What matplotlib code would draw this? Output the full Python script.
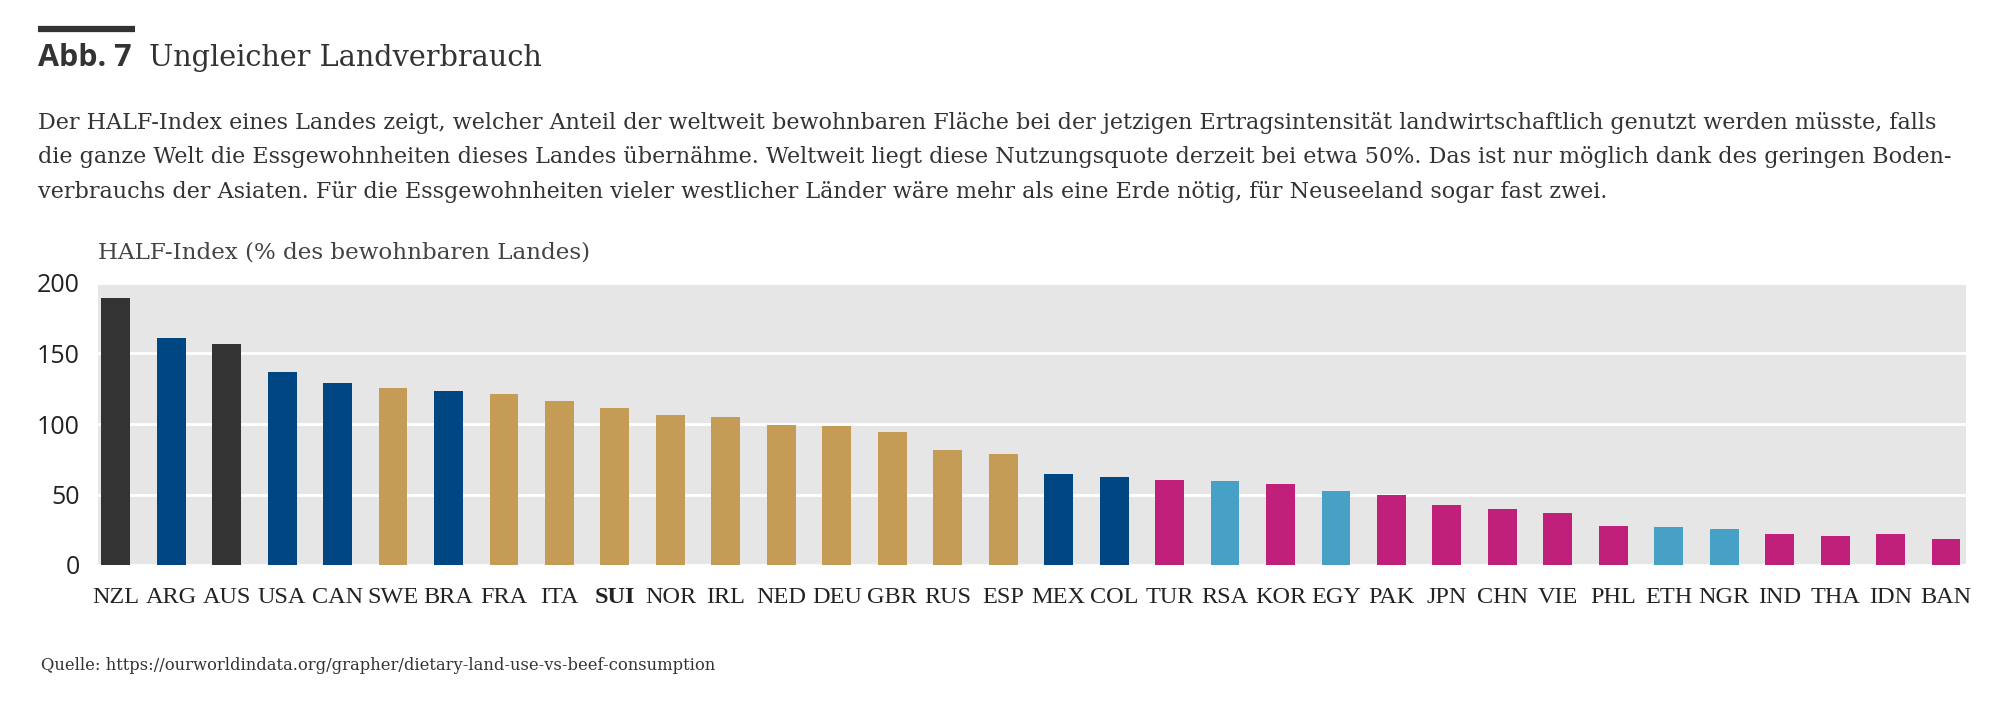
import matplotlib.pyplot as plt
import matplotlib.lines as mlines

laender = ['NZL', 'ARG', 'AUS', 'USA', 'CAN', 'SWE', 'BRA', 'FRA', 'ITA', 'SUI', 'NOR',
           'IRL', 'NED', 'DEU', 'GBR', 'RUS', 'ESP', 'MEX', 'COL', 'TUR', 'RSA', 'KOR',
           'EGY', 'PAK', 'JPN', 'CHN', 'VIE', 'PHL', 'ETH', 'NGR', 'IND', 'THA', 'IDN', 'BAN']
half_index = [189.5, 161.0, 157.0, 136.9, 129.0, 125.2, 123.3, 121.2, 116.2, 111.4, 106.4,
              105.2, 99.3, 98.3, 94.5, 81.4, 78.6, 64.5, 62.4, 60.5, 59.5, 57.6,
              52.6, 49.5, 42.6, 39.8, 36.7, 27.6, 26.7, 25.7, 21.7, 20.7, 22.1, 18.3]
# Farbgruppe je Land
gruppe = ['ozeanien', 'amerika', 'ozeanien', 'amerika', 'amerika', 'europa', 'amerika',
          'europa', 'europa', 'europa', 'europa', 'europa', 'europa', 'europa', 'europa',
          'europa', 'europa', 'amerika', 'amerika', 'asien', 'afrika', 'asien', 'afrika',
          'asien', 'asien', 'asien', 'asien', 'asien', 'afrika', 'afrika', 'asien', 'asien',
          'asien', 'asien']
farben = {'ozeanien': '#333333', 'amerika': '#004683', 'europa': '#c59c55',
          'asien': '#c01f7a', 'afrika': '#47a1c7'}
y_ticks = [0, 50, 100, 150, 200]

W, H = 2000, 728
fig = plt.figure(figsize=(20, 7.28), dpi=100)

serif = 'DejaVu Serif'
sans = 'Open Sans'

# Titelbalken und Titel
fig.add_artist(mlines.Line2D([38 / W, 135 / W], [1 - 29 / H, 1 - 29 / H],
                             color='#333333', linewidth=4.5, solid_capstyle='butt'))
fig.text(38 / W, 1 - 66 / H, 'Abb. 7', fontsize=22, fontweight='bold',
         family=sans, color='#333333', va='baseline')
fig.text(149 / W, 1 - 66 / H, 'Ungleicher Landverbrauch', fontsize=20.7,
         family=serif, color='#333333', va='baseline')

text = ['Der HALF-Index eines Landes zeigt, welcher Anteil der weltweit bewohnbaren Fläche bei der jetzigen Ertragsintensität landwirtschaftlich genutzt werden müsste, falls',
        'die ganze Welt die Essgewohnheiten dieses Landes übernähme. Weltweit liegt diese Nutzungsquote derzeit bei etwa 50%. Das ist nur möglich dank des geringen Boden-',
        'verbrauchs der Asiaten. Für die Essgewohnheiten vieler westlicher Länder wäre mehr als eine Erde nötig, für Neuseeland sogar fast zwei.']
for i, zeile in enumerate(text):
    fig.text(38 / W, 1 - (129 + i * 34.5) / H, zeile, fontsize=16.05, family=serif,
             color='#333333', va='baseline')

fig.text(98 / W, 1 - 258 / H, 'HALF-Index (% des bewohnbaren Landes)', fontsize=16.6,
         family=serif, color='#444444', va='baseline')

ax = fig.add_axes([98 / W, 1 - 565 / H, (1966 - 98) / W, (565 - 283) / H])
ax.set_facecolor('#e6e6e6')
x = range(len(laender))
ax.bar(x, half_index, width=0.52, color=[farben[g] for g in gruppe], zorder=3)
ax.set_xlim(-0.32, len(laender) - 1 + 0.36)
ax.set_ylim(0, 200)
ax.set_yticks(y_ticks)
ax.set_yticklabels([str(v) for v in y_ticks], fontsize=18, family=sans, color='#222222')
ax.set_xticks(list(x))
ax.set_xticklabels(laender, fontsize=17.5, family='Liberation Serif', color='#222222')
for lab in ax.get_xticklabels():
    if lab.get_text() == 'SUI':
        lab.set_fontweight('bold')
ax.tick_params(axis='both', length=0)
ax.tick_params(axis='y', pad=13)
ax.tick_params(axis='x', pad=16)
ax.grid(axis='y', color='white', linewidth=2, zorder=1)
ax.grid(axis='x', visible=False)
for s in ax.spines.values():
    s.set_visible(False)

fig.text(41 / W, 1 - 670 / H,
         'Quelle: https://ourworldindata.org/grapher/dietary-land-use-vs-beef-consumption',
         fontsize=11.8, family=serif, color='#333333', va='baseline')

plt.savefig('out.png', dpi=100, facecolor='white')
